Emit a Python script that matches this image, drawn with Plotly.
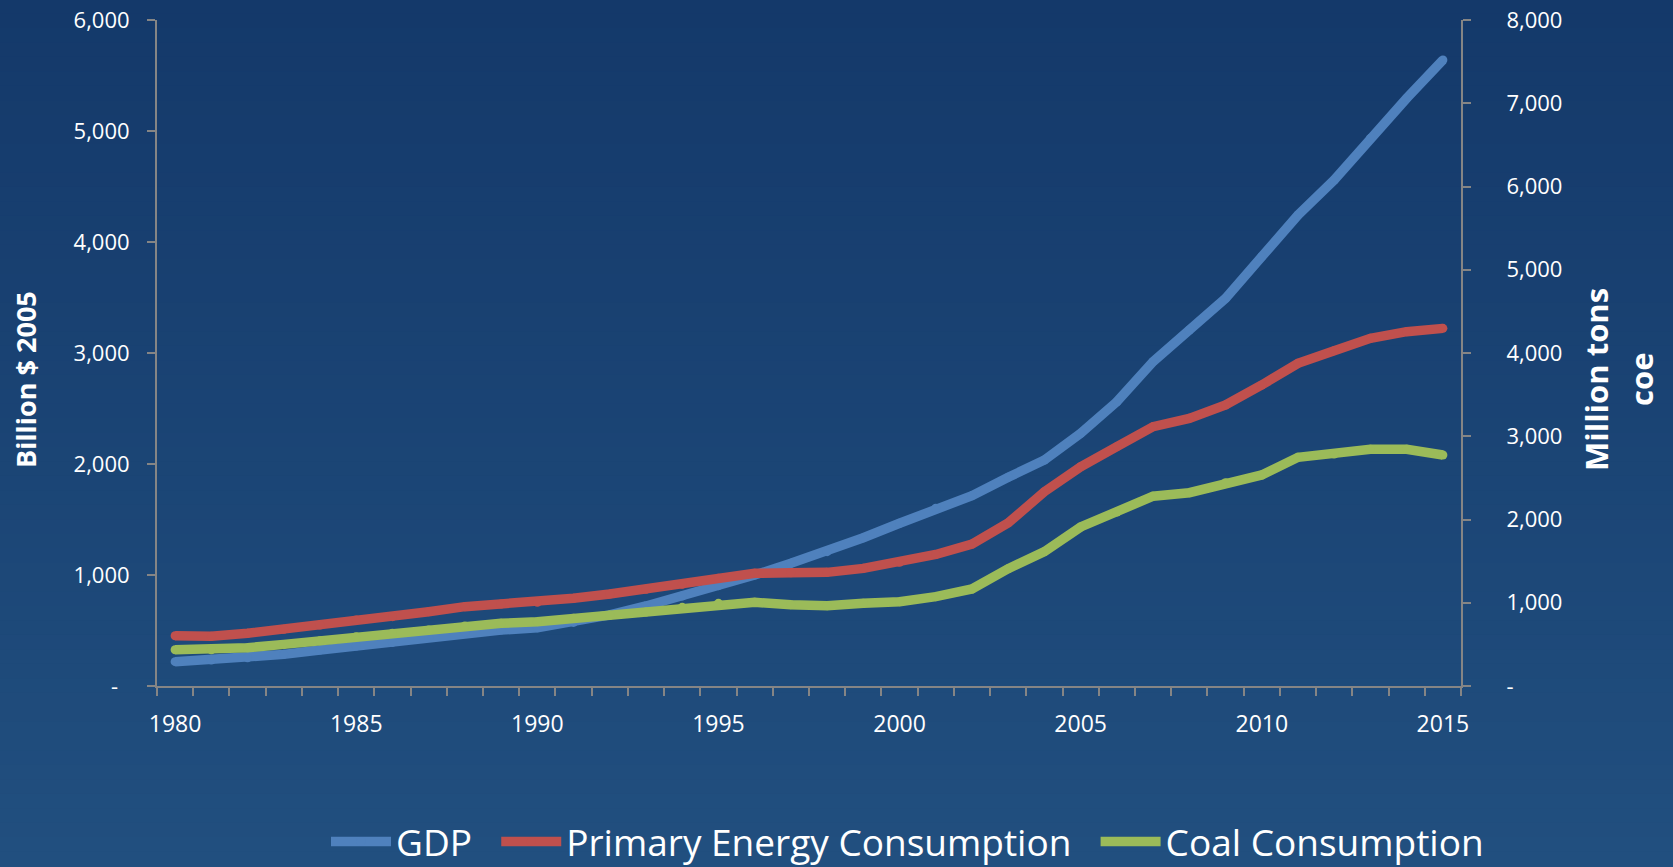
import plotly.graph_objects as go

years = list(range(1980, 2016))

gdp = [219, 234, 255, 285, 324, 360, 393, 438, 483, 504, 525, 573, 640, 721, 811, 904,
       1000, 1105, 1210, 1336, 1466, 1601, 1715, 1880, 2036, 2276, 2561, 2922, 3207, 3493,
       3868, 4243, 4559, 4934, 5295, 5640]

primary_energy = [604, 597, 633, 681, 733, 793, 833, 893, 953, 985, 1005, 1053, 1105, 1161,
                  1221, 1293, 1353, 1361, 1365, 1413, 1485, 1580, 1706, 1960, 2334, 2634,
                  2875, 3115, 3215, 3375, 3616, 3876, 4028, 4176, 4256, 4296]

coal = [436, 436, 460, 500, 544, 592, 633, 673, 721, 753, 773, 813, 853, 889, 945, 993,
        1005, 977, 965, 993, 1013, 1073, 1165, 1409, 1614, 1910, 2090, 2280, 2322, 2442,
        2535, 2747, 2787, 2843, 2843, 2775]

left_tickvals = [0, 1000, 2000, 3000, 4000, 5000, 6000]
left_ticktext = ["-\u00a0\u00a0", "1,000", "2,000", "3,000", "4,000", "5,000", "6,000"]
right_tickvals = [0, 1000, 2000, 3000, 4000, 5000, 6000, 7000, 8000]
right_ticktext = ["-", "1,000", "2,000", "3,000", "4,000", "5,000", "6,000", "7,000", "8,000"]
x_tickvals = [1980, 1985, 1990, 1995, 2000, 2005, 2010, 2015]

BLUE = "#4F81BD"
RED = "#C0504D"
GREEN = "#9BBB59"
AXIS = "#858585"
FONT = "Open Sans"
PAD = "\u00a0\u00a0"

W, H = 1673, 867
L, R, T, B = 157, 212, 20, 181
pw, ph = W - L - R, H - T - B

def px_to_paper_x(px):
    return (px - L) / pw

def px_to_paper_y(py):
    return (H - B - py) / ph

fig = go.Figure()
fig.add_trace(go.Scatter(x=years, y=gdp, name="GDP" + PAD, mode="lines+markers",
                         line=dict(color=BLUE, width=9.5), marker=dict(size=9, color=BLUE),
                         yaxis="y"))
fig.add_trace(go.Scatter(x=years, y=primary_energy, name="Primary Energy Consumption" + PAD,
                         mode="lines+markers", line=dict(color=RED, width=9.5),
                         marker=dict(size=9, color=RED), yaxis="y2"))
fig.add_trace(go.Scatter(x=years, y=coal, name="Coal Consumption", mode="lines+markers",
                         line=dict(color=GREEN, width=9.5), marker=dict(size=9, color=GREEN),
                         yaxis="y2"))

# background gradient bands
top_c = (20, 57, 106)
bot_c = (33, 79, 127)
nb = 60
shapes = []
for i in range(nb):
    t = i / (nb - 1)
    c = tuple(round(top_c[k] + (bot_c[k] - top_c[k]) * t) for k in range(3))
    y0 = i * H / nb - 1
    y1 = (i + 1) * H / nb + 1
    shapes.append(dict(type="rect", xref="paper", yref="paper", layer="below",
                       x0=px_to_paper_x(-2), x1=px_to_paper_x(W + 2),
                       y0=px_to_paper_y(y1), y1=px_to_paper_y(y0),
                       line=dict(width=0), fillcolor="rgb(%d,%d,%d)" % c))

annotations = [
    dict(text="<b>Billion $ 2005</b>", textangle=-90, xref="paper", yref="paper",
         x=px_to_paper_x(25), y=px_to_paper_y(380), showarrow=False,
         font=dict(family=FONT, size=27, color="white"), xanchor="center", yanchor="middle"),
    dict(text="<b>Million tons</b>", textangle=-90, xref="paper", yref="paper",
         x=px_to_paper_x(1596), y=px_to_paper_y(379), showarrow=False,
         font=dict(family=FONT, size=31, color="white"), xanchor="center", yanchor="middle"),
    dict(text="<b>coe</b>", textangle=-90, xref="paper", yref="paper",
         x=px_to_paper_x(1641), y=px_to_paper_y(380), showarrow=False,
         font=dict(family=FONT, size=31, color="white"), xanchor="center", yanchor="middle"),
]

fig.update_layout(
    width=W, height=H,
    margin=dict(l=L, r=R, t=T, b=B, pad=0, autoexpand=False),
    paper_bgcolor="rgb(26,67,116)",
    plot_bgcolor="rgba(0,0,0,0)",
    font=dict(family=FONT, color="white"),
    shapes=shapes,
    annotations=annotations,
    showlegend=True,
    legend=dict(orientation="h", x=px_to_paper_x(326), xanchor="left",
                y=px_to_paper_y(842), yanchor="middle",
                font=dict(family=FONT, size=37, color="white"),
                bgcolor="rgba(0,0,0,0)", itemwidth=60, traceorder="normal"),
    xaxis=dict(range=[1979.5, 2015.5], tickvals=x_tickvals, ticks="",
               showline=True, linecolor=AXIS, linewidth=2, showgrid=False, zeroline=False,
               tickfont=dict(family=FONT, size=23, color="white"),
               ticklabelstandoff=16,
               minor=dict(ticks="outside", tick0=1979.5, dtick=1, ticklen=8,
                          tickcolor=AXIS, tickwidth=2, showgrid=False)),
    yaxis=dict(range=[0, 6000], tickvals=left_tickvals, ticktext=left_ticktext,
               ticks="outside", ticklen=8, tickcolor=AXIS, tickwidth=2,
               showline=True, linecolor=AXIS, linewidth=2, showgrid=False, zeroline=False,
               tickfont=dict(family=FONT, size=22, color="white"), ticklabelstandoff=13),
    yaxis2=dict(range=[0, 8000], tickvals=right_tickvals, ticktext=right_ticktext,
                overlaying="y", side="right", anchor="x",
                ticks="outside", ticklen=8, tickcolor=AXIS, tickwidth=2,
                showline=True, linecolor=AXIS, linewidth=2, showgrid=False, zeroline=False,
                tickfont=dict(family=FONT, size=22, color="white"), ticklabelstandoff=31),
)

fig.write_html("out.html")
